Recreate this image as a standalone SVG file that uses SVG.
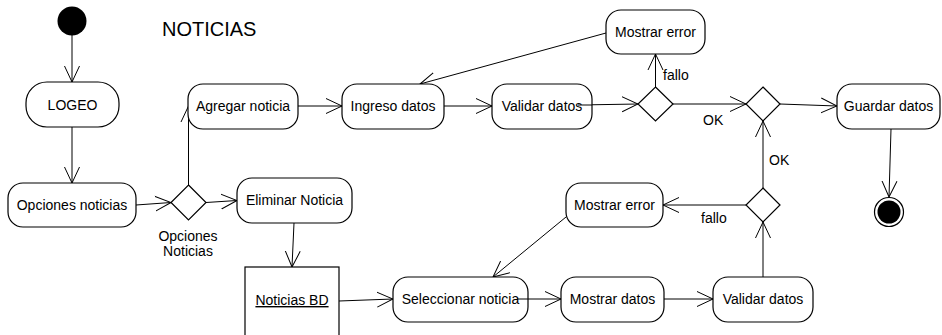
<svg xmlns="http://www.w3.org/2000/svg" width="942" height="335" viewBox="0 0 942 335">
<style>
.n{fill:#fff;stroke:#000;stroke-width:1.2}
.d{fill:#fff;stroke:#000;stroke-width:1.2}
.t{font-family:"Liberation Sans",Arial,sans-serif;font-size:14px;fill:#000;text-anchor:middle}
.l{font-family:"Liberation Sans",Arial,sans-serif;font-size:14px;fill:#000}
.c line{stroke:#000;stroke-width:1;fill:none}
.a{marker-end:url(#ah)}
</style>
<defs>
<marker id="ah" viewBox="0 0 17 17" refX="16" refY="8.5" markerWidth="17" markerHeight="17" markerUnits="userSpaceOnUse" orient="auto">
<path d="M0,1 L16,8.5 L0,16" fill="none" stroke="#000" stroke-width="1"/>
</marker>
</defs>
<rect width="942" height="335" fill="#fff"/>
<text x="162" y="36" class="l" style="font-size:20px">NOTICIAS</text>

<g class="c" id="connectors">
<line class="a" x1="72" y1="35" x2="72" y2="82"/>
<line class="a" x1="72" y1="127" x2="72" y2="183"/>
<line class="a" x1="136" y1="205" x2="171" y2="202.5"/>
<line class="a" x1="206" y1="202.5" x2="237" y2="200.5"/>
<line class="a" x1="188.5" y1="185" x2="188.5" y2="106"/>
<line class="a" x1="298" y1="106" x2="342" y2="106"/>
<line class="a" x1="444" y1="106" x2="492" y2="106"/>
<line class="a" x1="578" y1="105" x2="638" y2="104"/>
<line class="a" x1="655.5" y1="87" x2="655.5" y2="54"/>
<line class="a" x1="606" y1="33" x2="420" y2="84"/>
<line class="a" x1="673" y1="104" x2="746" y2="104"/>
<line class="a" x1="780" y1="104" x2="837" y2="106"/>
<line class="a" x1="891" y1="129" x2="889" y2="197"/>
<line class="a" x1="763" y1="188" x2="763" y2="121"/>
<line class="a" x1="746" y1="205" x2="663" y2="205"/>
<line class="a" x1="566" y1="217" x2="493" y2="277"/>
<line class="a" x1="763" y1="277" x2="763" y2="222"/>
<line class="a" x1="664" y1="299" x2="713" y2="299"/>
<line class="a" x1="517" y1="299" x2="561" y2="299"/>
<line class="a" x1="339" y1="301" x2="393" y2="299"/>
<line class="a" x1="294" y1="223" x2="292" y2="267"/>
</g>

<g id="start"><circle cx="72" cy="21" r="14.5" fill="#000"/></g>
<g id="logeo"><rect class="n" x="26" y="82" width="93" height="45" rx="21"/><text class="t" x="72.5" y="110">LOGEO</text></g>
<g id="opciones"><rect class="n" x="8" y="183" width="128" height="44" rx="15"/><text class="t" x="72" y="210">Opciones noticias</text></g>
<g id="dec-opciones"><polygon class="d" points="188.5,185 206,202.5 188.5,220 171,202.5"/><text class="t" x="188" y="241">Opciones</text><text class="t" x="188" y="256">Noticias</text></g>
<g id="agregar"><rect class="n" x="188" y="84" width="110" height="45" rx="15"/><text class="t" x="243" y="111">Agregar noticia</text></g>
<g id="ingreso"><rect class="n" x="342" y="84" width="102" height="45" rx="15"/><text class="t" x="393" y="111">Ingreso datos</text></g>
<g id="validar1"><rect class="n" x="492" y="84" width="100" height="45" rx="15"/><text class="t" x="542" y="111">Validar datos</text></g>
<line x1="578" y1="105" x2="592" y2="105" stroke="#000" stroke-width="1"/>
<g id="dec1"><polygon class="d" points="655.5,87 673,104 655.5,121 638,104"/></g>
<text class="l" x="663" y="80">fallo</text>
<text class="l" x="703" y="125">OK</text>
<g id="error1"><rect class="n" x="606" y="10" width="99" height="44" rx="15"/><text class="t" x="655.5" y="37">Mostrar error</text></g>
<g id="dec2"><polygon class="d" points="763,87 780,104 763,121 746,104"/></g>
<text class="l" x="769" y="165">OK</text>
<g id="guardar"><rect class="n" x="837" y="84" width="103" height="45" rx="15"/><text class="t" x="888.5" y="111">Guardar datos</text></g>
<g id="end"><circle cx="889" cy="212" r="14.5" fill="#fff" stroke="#000" stroke-width="1.2"/><circle cx="889" cy="212" r="11.5" fill="#000"/></g>
<g id="eliminar"><rect class="n" x="237" y="178" width="115" height="45" rx="15"/><text class="t" x="294.5" y="205">Eliminar Noticia</text></g>
<g id="bd"><rect class="n" x="245" y="267" width="94" height="80"/><text class="t" x="292" y="305" text-decoration="underline">Noticias BD</text></g>
<g id="seleccionar"><rect class="n" x="393" y="277" width="135" height="45" rx="15"/><text class="t" x="460.5" y="304">Seleccionar noticia</text></g>
<line x1="517" y1="299" x2="528" y2="299" stroke="#000" stroke-width="1"/>
<g id="mostrardatos"><rect class="n" x="561" y="277" width="103" height="45" rx="15"/><text class="t" x="612.5" y="304">Mostrar datos</text></g>
<g id="validar2"><rect class="n" x="713" y="277" width="100" height="45" rx="15"/><text class="t" x="763" y="304">Validar datos</text></g>
<g id="dec3"><polygon class="d" points="763,188 780,205 763,222 746,205"/></g>
<text class="l" x="701" y="223">fallo</text>
<g id="error2"><rect class="n" x="566" y="183" width="97" height="44" rx="15"/><text class="t" x="614.5" y="210">Mostrar error</text></g>
</svg>
